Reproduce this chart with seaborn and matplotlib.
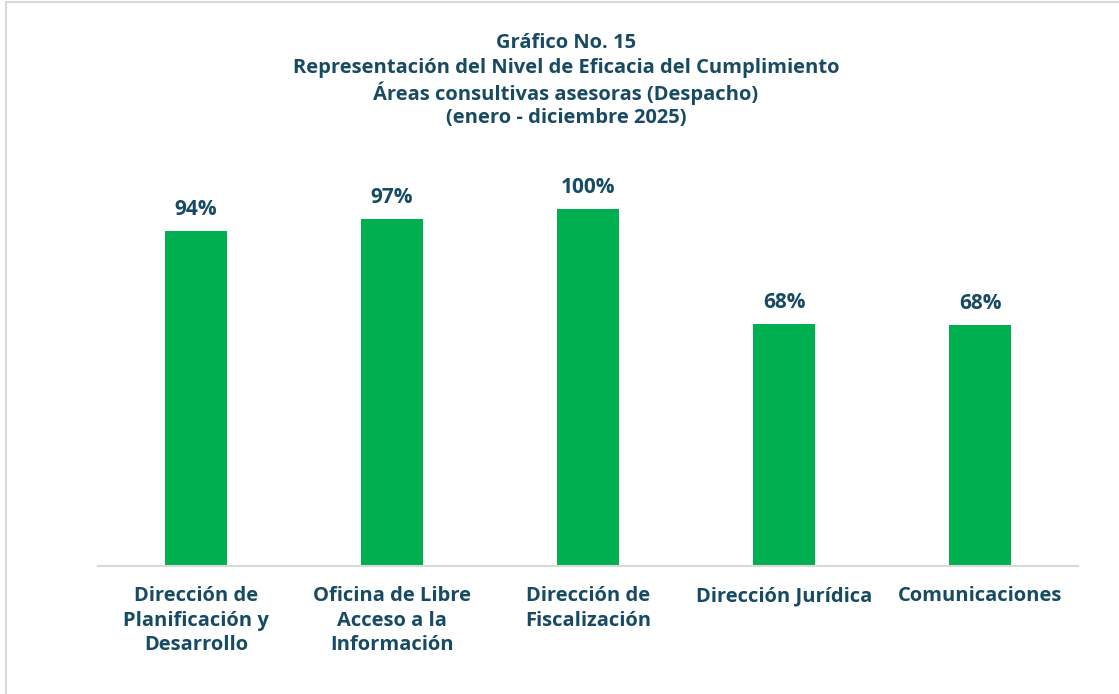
import matplotlib
matplotlib.use("Agg")
import matplotlib.pyplot as plt
import seaborn as sns
import pandas as pd
from matplotlib.lines import Line2D

categories = ["Dirección de\nPlanificación y\nDesarrollo",
              "Oficina de Libre\nAcceso a la\nInformación",
              "Dirección de\nFiscalización",
              "Dirección Jurídica",
              "Comunicaciones"]
values = [93.8, 97.2, 100.0, 67.8, 67.5]
value_labels = ["94%", "97%", "100%", "68%", "68%"]
title_lines = ["Gráfico No. 15",
               "Representación del Nivel de Eficacia del Cumplimiento",
               "Áreas consultivas asesoras (Despacho)",
               "(enero - diciembre 2025)"]

sns.set_theme(style="white")
plt.rcParams['font.family'] = ['Open Sans', 'DejaVu Sans']

TXT = "#174A63"
GREEN = "#00B050"

fig = plt.figure(figsize=(11.19, 6.94), dpi=100)
ax = fig.add_axes([98/1119, 1-566/694, 980/1119, 357/694])

df = pd.DataFrame({"cat": categories, "val": values})
sns.barplot(data=df, x="cat", y="val", color=GREEN, saturation=1, width=0.316, ax=ax)
for p in ax.patches:
    p.set_edgecolor("none")

ax.set_ylim(0, 100)
ax.set_xlim(-0.5, 4.5)
ax.set_xlabel("")
ax.set_ylabel("")
ax.set_yticks([])
for s in ["top", "right", "left"]:
    ax.spines[s].set_visible(False)
ax.spines["bottom"].set_color("#D9D9D9")
ax.spines["bottom"].set_linewidth(1.5)
ax.tick_params(axis="x", length=0, pad=14.5)
ax.set_xticks(range(len(categories)))
ax.set_xticklabels(categories, fontsize=14.5, fontweight="bold", color=TXT, linespacing=1.3)

for i, (v, lab) in enumerate(zip(values, value_labels)):
    ax.annotate(lab, (i, v), xytext=(0, 8), textcoords="offset points",
                ha="center", va="bottom", fontsize=15, fontweight="bold",
                color=TXT, clip_on=False)

ys = [43, 68, 93, 118]
for t, y in zip(title_lines, ys):
    fig.text(566/1119, 1-y/694, t, ha="center", va="center", fontsize=14.5,
             fontweight="bold", color=TXT)

fig.add_artist(Line2D([6/1119, 6/1119], [0, 1-2/694], transform=fig.transFigure,
                      color="#D9D9D9", lw=1.5))
fig.add_artist(Line2D([6/1119, 1], [1-2/694, 1-2/694], transform=fig.transFigure,
                      color="#D9D9D9", lw=1.5))

fig.savefig("out.png", dpi=100, facecolor="white")
